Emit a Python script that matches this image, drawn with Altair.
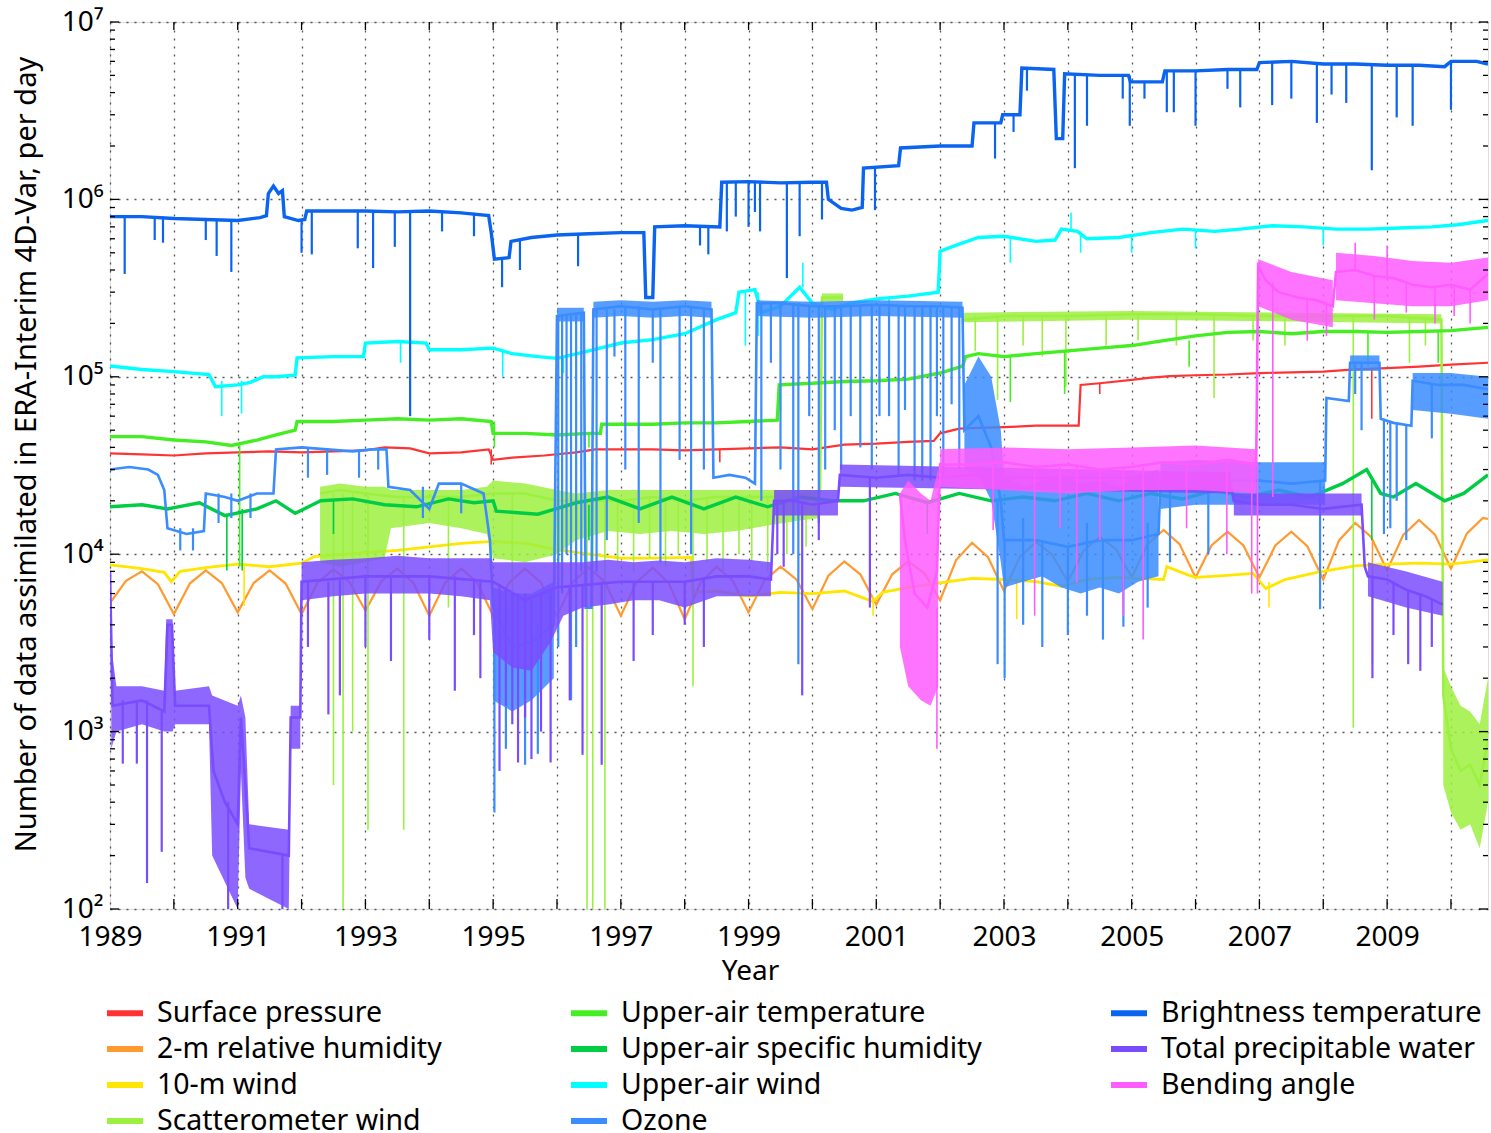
import altair as alt
import pandas as pd

# ---------------------------------------------------------------- layout
W, H = 1378, 887
X0, X1 = 1989.0, 2010.58
FONT = "Noto Sans"

NAMES = ["Surface pressure", "2-m relative humidity", "10-m wind", "Scatterometer wind",
         "Upper-air temperature", "Upper-air specific humidity", "Upper-air wind", "Ozone",
         "Brightness temperature", "Total precipitable water", "Bending angle"]
COLORS = ["#ff3333", "#ff9a30", "#ffe600", "#9cf040", "#44ee22", "#00cc44",
          "#00ffff", "#3a8cff", "#0a64f0", "#7a4cff", "#ff5cff"]
WIDTHS = [2.2, 2.2, 2.8, 2.5, 3.4, 3.4, 3.4, 2.6, 3.4, 2.6, 2.6]

YEAR_TICKS = list(range(1990, 2011))
Y_MAJOR = [1e2, 1e3, 1e4, 1e5, 1e6, 1e7]
Y_MINOR = [m * 10 ** e for e in range(2, 7) for m in range(2, 10)]

# ---------------------------------------------------------------- data
# (year, count per day); None breaks a line
sp_line = [(1989.0, 3.7e4), (1989.5, 3.65e4), (1990.0, 3.6e4), (1990.5, 3.7e4), (1991.0, 3.75e4),
           (1991.5, 3.8e4), (1992.0, 3.75e4), (1992.5, 3.8e4), (1993.0, 3.85e4), (1993.3, 4.0e4),
           (1993.7, 3.95e4), (1994.0, 3.7e4), (1994.5, 3.75e4), (1994.93, 3.9e4), (1995.0, 3.4e4),
           (1995.3, 3.5e4), (1995.8, 3.6e4), (1996.3, 3.75e4), (1996.6, 3.9e4), (1997.0, 3.9e4),
           (1997.5, 3.9e4), (1998.0, 3.85e4), (1998.5, 3.9e4), (1999.0, 3.95e4), (1999.5, 4.0e4),
           (2000.0, 3.9e4), (2000.5, 4.15e4), (2001.0, 4.2e4), (2001.5, 4.3e4), (2001.9, 4.35e4),
           (2002.0, 4.8e4), (2002.3, 5.1e4), (2002.6, 5.15e4), (2003.0, 5.2e4), (2003.5, 5.3e4),
           (2004.0, 5.3e4), (2004.17, 5.3e4), (2004.2, 9.0e4), (2004.5, 9.2e4), (2005.0, 9.6e4),
           (2005.3, 9.9e4), (2005.6, 1.01e5), (2006.0, 1.02e5), (2006.5, 1.03e5), (2007.0, 1.05e5),
           (2007.5, 1.06e5), (2008.0, 1.07e5), (2008.5, 1.1e5), (2009.0, 1.12e5), (2009.5, 1.14e5),
           (2010.0, 1.17e5), (2010.58, 1.2e5)]
sp_dips = [(1994.97, 3.2e4, 3.9e4), (1998.55, 3.3e4, 3.9e4), (2004.5, 8.0e4, 9.2e4),
           (2008.76, 5.8e4, 1.1e5)]

rh_line = [(1989.0, 5.3e3), (1989.25, 7.07e3), (1989.5, 8.0e3), (1989.75, 6.78e3),
           (1990.0, 4.6e3), (1990.25, 6.83e3), (1990.5, 8.1e3), (1990.75, 6.88e3),
           (1991.0, 4.7e3), (1991.25, 6.88e3), (1991.5, 8.1e3), (1991.75, 6.83e3),
           (1992.0, 4.6e3), (1992.25, 6.9e3), (1992.5, 8.2e3), (1992.75, 6.98e3),
           (1993.0, 4.8e3), (1993.25, 7.05e3), (1993.5, 8.3e3), (1993.75, 6.91e3),
           (1994.0, 4.5e3), (1994.25, 6.91e3), (1994.5, 8.3e3), (1994.75, 6.91e3),
           (1995.0, 4.5e3), (1995.25, 6.91e3), (1995.5, 8.3e3), (1995.75, 6.91e3),
           (1996.0, 4.5e3), (1996.25, 6.97e3), (1996.5, 8.4e3), (1996.75, 6.97e3),
           (1997.0, 4.5e3), (1997.25, 6.97e3), (1997.5, 8.4e3), (1997.75, 6.87e3),
           (1998.0, 4.3e3), (1998.25, 6.93e3), (1998.5, 8.5e3), (1998.75, 7.12e3),
           (1999.0, 4.7e3), (1999.25, 7.12e3), (1999.5, 8.5e3), (1999.75, 7.2e3),
           (2000.0, 4.9e3), (2000.25, 7.56e3), (2000.5, 9.1e3), (2000.75, 7.7e3),
           (2001.0, 5.2e3), (2001.25, 7.7e3), (2001.5, 9.1e3), (2001.75, 7.83e3),
           (2002.0, 5.5e3), (2002.25, 9.27e3), (2002.5, 1.16e4), (2002.75, 9.61e3),
           (2003.0, 6.2e3), (2003.25, 9.67e3), (2003.5, 1.17e4), (2003.75, 1.0e4),
           (2004.0, 7.0e3), (2004.25, 1.05e4), (2004.5, 1.25e4), (2004.75, 1.07e4),
           (2005.0, 7.4e3), (2005.25, 1.14e4), (2005.5, 1.37e4), (2005.75, 1.14e4),
           (2006.0, 7.4e3), (2006.25, 1.12e4), (2006.5, 1.34e4), (2006.75, 1.12e4),
           (2007.0, 7.4e3), (2007.25, 1.12e4), (2007.5, 1.34e4), (2007.75, 1.11e4),
           (2008.0, 7.2e3), (2008.25, 1.2e4), (2008.5, 1.5e4), (2008.75, 1.25e4),
           (2009.0, 8.1e3), (2009.25, 1.28e4), (2009.5, 1.56e4), (2009.75, 1.29e4),
           (2010.0, 8.3e3), (2010.25, 1.31e4), (2010.5, 1.6e4), (2010.58, 1.58e4)]
rh_dips = [(2008.77, 2.4e3, 1.2e4)]

wind10_line = [(1989.0, 8.7e3), (1989.5, 8.3e3), (1989.85, 7.9e3), (1989.96, 7.0e3), (1990.1, 8.0e3),
               (1990.5, 8.4e3), (1991.0, 8.8e3), (1991.5, 8.5e3), (1992.0, 8.9e3), (1992.2, 9.7e3),
               (1993.0, 1.02e4), (1993.5, 1.05e4), (1994.0, 1.1e4), (1994.5, 1.15e4), (1995.0, 1.18e4),
               (1995.5, 1.15e4), (1996.0, 1.06e4), (1996.5, 1.0e4), (1997.0, 9.5e3), (1997.5, 9.5e3),
               (1998.1, 9.6e3), (1998.13, 6.1e3), (1998.5, 6.2e3), (1999.0, 5.8e3), (1999.5, 6.1e3),
               (2000.0, 6.0e3), (2000.5, 6.2e3), (2000.95, 5.4e3), (2001.1, 6.1e3), (2001.5, 6.5e3),
               (2002.0, 6.9e3), (2002.5, 7.3e3), (2003.0, 7.2e3), (2003.5, 7.0e3), (2003.9, 6.6e3),
               (2004.3, 7.2e3), (2004.8, 7.4e3), (2005.5, 7.2e3), (2005.55, 8.5e3), (2005.9, 7.6e3),
               (2006.0, 7.4e3), (2006.5, 7.6e3), (2006.9, 7.8e3), (2007.1, 6.4e3), (2007.4, 7.2e3),
               (2007.9, 7.9e3), (2008.5, 8.6e3), (2009.0, 8.8e3), (2009.5, 8.9e3), (2010.0, 8.8e3),
               (2010.58, 9.3e3)]
wind10_dips = [(1991.1, 5.1e3, 8.8e3), (2000.95, 4.5e3, 5.8e3), (2003.2, 4.3e3, 7.2e3),
               (2007.15, 5.0e3, 7.0e3)]

scat_line = [(1992.29, 2.2e4), (1992.6, 2.3e4), (1993.0, 2.2e4), (1993.5, 2.1e4), (1994.0, 2.1e4),
             (1994.5, 2.1e4), (1995.0, 2.2e4), (1995.5, 2.2e4), (1996.0, 2.0e4), (1996.5, 2.0e4),
             (1997.0, 2.0e4), (1997.5, 2.1e4), (1998.0, 2.0e4), (1998.5, 2.1e4), (1999.0, 2.1e4),
             (1999.5, 2.1e4), (2000.12, 2.2e4), (2000.15, 2.8e5), (2000.48, 2.8e5), None,
             (2002.37, 2.1e5), (2003.0, 2.2e5), (2004.0, 2.2e5), (2005.0, 2.25e5), (2006.0, 2.25e5),
             (2007.0, 2.2e5), (2008.0, 2.2e5), (2009.0, 2.2e5), (2009.85, 2.1e5), (2009.88, 1.6e3),
             (2010.0, 8.0e2), (2010.15, 6.0e2), (2010.3, 6.5e2), (2010.45, 5.0e2), (2010.58, 9.0e2)]
scat_band = [(1992.29, 9.0e3, 2.4e4), (1992.6, 8.5e3, 2.5e4), (1993.0, 9.0e3, 2.4e4), (1993.3, 9.5e3, 2.4e4),
             (1993.4, 1.4e4, 2.3e4), (1994.0, 1.5e4, 2.3e4), (1994.5, 1.4e4, 2.3e4), (1994.9, 1.3e4, 2.4e4),
             (1995.0, 9.5e3, 2.6e4), (1995.5, 9.0e3, 2.5e4), (1996.0, 1.0e4, 2.3e4), (1996.3, 1.2e4, 2.2e4),
             (1996.8, 1.35e4, 2.3e4), (1997.3, 1.3e4, 2.3e4), (1997.8, 1.35e4, 2.3e4), (1998.3, 1.3e4, 2.3e4),
             (1998.8, 1.35e4, 2.3e4), (1999.3, 1.45e4, 2.3e4), (1999.8, 1.55e4, 2.3e4), (2000.12, 1.6e4, 2.3e4),
             None, (2000.15, 2.65e5, 2.95e5), (2000.48, 2.65e5, 2.95e5),
             None, (2002.37, 2.03e5, 2.3e5), (2005.0, 2.1e5, 2.35e5), (2009.85, 2.0e5, 2.25e5),
             None, (2009.88, 5.0e2, 2.3e3), (2010.0, 3.5e2, 1.8e3), (2010.15, 2.8e2, 1.4e3),
             (2010.3, 3.0e2, 1.3e3), (2010.45, 2.2e2, 1.1e3), (2010.58, 4.0e2, 2.0e3)]
scat_dips = [(1992.5, 5.0e2, 2.2e4), (1992.65, 1.0e2, 2.2e4), (1992.8, 1.0e3, 2.2e4), (1993.04, 2.8e2, 2.2e4),
             (1993.6, 2.8e2, 2.1e4), (1994.3, 5.0e3, 2.1e4), (1995.3, 4.0e3, 2.2e4), (1996.47, 1.0e2, 2.0e4),
             (1996.56, 1.0e2, 2.0e4), (1996.75, 1.0e2, 2.0e4), (1996.95, 9.0e3, 2.0e4), (1997.2, 8.0e3, 2.0e4),
             (1997.45, 9.5e3, 2.1e4), (1997.7, 8.5e3, 2.0e4), (1997.9, 1.0e4, 2.0e4), (1998.13, 1.8e3, 2.0e4),
             (1998.35, 9.0e3, 2.1e4), (1998.6, 8.0e3, 2.1e4), (1998.85, 1.0e4, 2.1e4), (1999.05, 9.0e3, 2.1e4),
             (1999.3, 8.0e3, 2.1e4), (1999.6, 1.0e4, 2.1e4), (1999.9, 1.1e4, 2.2e4),
             (2002.55, 1.4e5, 2.2e5), (2002.9, 7.4e4, 2.2e5),
             (2003.3, 1.5e5, 2.2e5), (2003.6, 1.3e5, 2.2e5), (2003.97, 8.8e4, 2.2e5), (2004.6, 1.5e5, 2.2e5),
             (2005.1, 1.6e5, 2.25e5), (2005.7, 1.5e5, 2.25e5), (2006.29, 7.6e4, 2.25e5), (2006.9, 1.6e5, 2.2e5),
             (2007.4, 1.5e5, 2.2e5), (2008.47, 1.05e3, 2.2e5), (2009.35, 1.2e5, 2.2e5), (2009.6, 1.5e5, 2.2e5)]

uat_line = [(1989.0, 4.6e4), (1989.5, 4.6e4), (1990.0, 4.4e4), (1990.5, 4.3e4), (1990.9, 4.1e4),
            (1991.3, 4.4e4), (1991.6, 4.7e4), (1991.9, 5.0e4), (1991.93, 5.6e4), (1992.5, 5.6e4),
            (1993.0, 5.7e4), (1993.5, 5.8e4), (1994.0, 5.7e4), (1994.5, 5.8e4), (1994.97, 5.6e4),
            (1995.0, 4.8e4), (1995.5, 4.8e4), (1996.0, 4.7e4), (1996.5, 4.8e4), (1996.68, 4.8e4),
            (1996.7, 5.4e4), (1997.5, 5.4e4), (1998.0, 5.5e4), (1998.5, 5.5e4), (1999.0, 5.6e4),
            (1999.45, 5.7e4), (1999.48, 9.0e4), (2000.0, 9.2e4), (2000.5, 9.4e4), (2001.0, 9.5e4),
            (2001.5, 9.7e4), (2002.0, 1.05e5), (2002.35, 1.15e5), (2002.4, 1.3e5), (2002.6, 1.35e5),
            (2003.0, 1.3e5), (2003.5, 1.35e5), (2004.0, 1.4e5), (2004.5, 1.45e5), (2005.0, 1.5e5),
            (2005.5, 1.6e5), (2006.0, 1.7e5), (2006.5, 1.78e5), (2007.0, 1.8e5), (2007.5, 1.75e5),
            (2008.0, 1.8e5), (2008.5, 1.8e5), (2009.0, 1.78e5), (2009.5, 1.8e5), (2010.0, 1.82e5),
            (2010.58, 1.9e5)]
uat_dips = [(1991.03, 8.5e3, 4.2e4), (1995.02, 4.0e4, 5.6e4), (1996.5, 4.0e4, 4.8e4), (1999.5, 6.5e4, 9.0e4),
            (2003.1, 7.2e4, 1.3e5), (2003.95, 8.0e4, 1.4e5), (2005.9, 1.14e5, 1.6e5), (2008.7, 1.15e5, 1.8e5),
            (2009.8, 1.2e5, 1.8e5)]

uash_line = [(1989.0, 1.85e4), (1989.5, 1.9e4), (1989.9, 1.8e4), (1990.4, 1.95e4), (1990.8, 1.65e4),
             (1991.3, 1.8e4), (1991.6, 2.0e4), (1991.9, 1.7e4), (1992.3, 2.0e4), (1992.8, 2.05e4),
             (1993.3, 1.9e4), (1993.8, 1.85e4), (1994.3, 2.05e4), (1994.7, 1.95e4), (1995.0, 2.0e4),
             (1995.05, 1.75e4), (1995.7, 1.68e4), (1996.3, 1.95e4), (1996.8, 2.1e4), (1997.3, 1.8e4),
             (1997.8, 2.1e4), (1998.3, 1.8e4), (1998.8, 2.1e4), (1999.3, 1.85e4), (1999.8, 2.1e4),
             (2000.3, 2.0e4), (2000.8, 2.0e4), (2001.3, 2.2e4), (2001.8, 1.95e4), (2002.3, 2.2e4),
             (2002.8, 2.0e4), (2003.3, 2.1e4), (2003.8, 2.0e4), (2004.3, 2.2e4), (2004.8, 2.0e4),
             (2005.3, 2.2e4), (2005.8, 2.05e4), (2006.3, 2.3e4), (2006.8, 2.1e4), (2007.3, 2.3e4),
             (2007.8, 2.1e4), (2008.3, 2.5e4), (2008.68, 3.0e4), (2008.9, 2.2e4), (2009.1, 2.1e4),
             (2009.45, 2.5e4), (2009.9, 2.0e4), (2010.2, 2.2e4), (2010.58, 2.8e4)]
uash_dips = [(1990.83, 8.1e3, 1.7e4), (1991.07, 8.1e3, 1.8e4), (1992.5, 1.3e4, 2.0e4), (1996.5, 1.2e4, 1.9e4),
             (1998.1, 1.2e4, 1.9e4), (2001.8, 1.3e4, 2.0e4), (2008.76, 1.2e4, 2.6e4)]

uaw_line = [(1989.0, 1.15e5), (1989.5, 1.1e5), (1990.0, 1.07e5), (1990.55, 1.03e5), (1990.65, 8.8e4),
            (1991.0, 9.0e4), (1991.2, 9.3e4), (1991.4, 1.0e5), (1991.6, 1.0e5), (1991.9, 1.02e5),
            (1991.93, 1.28e5), (1992.5, 1.3e5), (1992.97, 1.3e5), (1993.0, 1.55e5), (1993.5, 1.58e5),
            (1993.95, 1.55e5), (1994.0, 1.42e5), (1994.5, 1.42e5), (1995.0, 1.45e5), (1995.3, 1.35e5),
            (1995.7, 1.3e5), (1996.0, 1.27e5), (1996.5, 1.4e5), (1997.0, 1.55e5), (1997.5, 1.62e5),
            (1998.0, 1.75e5), (1998.5, 2.1e5), (1998.8, 2.3e5), (1998.85, 3.0e5), (1999.1, 3.1e5),
            (1999.2, 2.3e5), (1999.5, 2.5e5), (1999.8, 3.2e5), (2000.0, 2.6e5), (2000.3, 2.4e5),
            (2000.6, 2.6e5), (2001.0, 2.75e5), (2001.5, 2.85e5), (2001.97, 3.0e5), (2002.0, 5.1e5),
            (2002.3, 5.6e5), (2002.6, 6.1e5), (2003.0, 6.2e5), (2003.5, 5.8e5), (2003.8, 5.9e5),
            (2003.9, 6.8e5), (2004.15, 6.6e5), (2004.3, 6.0e5), (2004.8, 6.1e5), (2005.3, 6.5e5),
            (2005.8, 6.8e5), (2006.3, 6.6e5), (2006.7, 6.8e5), (2007.2, 7.1e5), (2007.7, 7.0e5),
            (2008.2, 6.8e5), (2008.7, 6.8e5), (2009.2, 6.9e5), (2009.7, 7.0e5), (2010.1, 7.2e5),
            (2010.58, 7.6e5)]
uaw_dips = [(1990.75, 6.0e4, 9.5e4), (1991.06, 6.2e4, 9.5e4), (1993.55, 1.2e5, 1.55e5), (1995.15, 1.0e5, 1.4e5),
            (1996.1, 1.05e5, 1.3e5), (1998.95, 1.5e5, 3.0e5), (1999.15, 1.7e5, 3.0e5), (1999.85, 3.2e5, 4.4e5),
            (2000.45, 1.8e5, 2.6e5), (2001.2, 2.2e5, 2.8e5), (2003.1, 4.4e5, 6.2e5), (2004.05, 6.6e5, 8.4e5),
            (2004.2, 5.0e5, 6.6e5), (2005.0, 5.0e5, 6.3e5), (2006.0, 5.3e5, 6.6e5), (2008.0, 5.5e5, 6.8e5)]

oz_line = [(1989.0, 3.0e4), (1989.3, 3.1e4), (1989.6, 3.0e4), (1989.75, 2.8e4), (1989.85, 2.3e4),
           (1989.9, 1.4e4), (1990.2, 1.3e4), (1990.47, 1.35e4), (1990.5, 2.2e4), (1990.8, 2.1e4),
           (1991.0, 2.0e4), (1991.3, 2.2e4), (1991.56, 2.2e4), (1991.6, 3.9e4), (1992.0, 4.0e4),
           (1992.4, 3.9e4), (1992.8, 3.8e4), (1993.1, 3.9e4), (1993.33, 3.9e4), (1993.36, 2.4e4),
           (1993.7, 2.3e4), (1994.0, 1.8e4), (1994.15, 2.5e4), (1994.5, 2.5e4), (1994.85, 2.2e4),
           (1994.95, 1.2e4), (1995.0, 5.0e3), (1995.3, 3.0e3), (1995.6, 3.2e3), (1995.95, 4.0e3),
           (1996.0, 2.2e5), (1996.42, 2.3e5), (1996.45, 5.0e3), (1996.54, 5.0e3), (1996.57, 2.4e5),
           (1997.0, 2.5e5), (1997.5, 2.4e5), (1998.0, 2.5e5), (1998.42, 2.4e5), (1998.45, 2.7e4),
           (1998.7, 2.8e4), (1998.95, 2.7e4), (1999.1, 2.5e4), (1999.13, 2.6e5), (1999.5, 2.6e5),
           (2000.0, 2.5e5), (2000.5, 2.5e5), (2001.0, 2.55e5), (2001.5, 2.5e5), (2002.0, 2.5e5),
           (2002.35, 2.45e5), (2002.38, 5.0e4), (2002.6, 6.0e4), (2002.8, 4.0e4), (2002.95, 2.0e4),
           (2003.0, 1.2e4), (2003.5, 1.2e4), (2004.0, 1.1e4), (2004.5, 1.2e4), (2005.0, 1.2e4),
           (2005.42, 1.3e4), (2005.45, 2.5e4), (2006.0, 2.6e4), (2006.5, 2.6e4), (2007.0, 2.6e4),
           (2007.5, 2.5e4), (2008.03, 2.6e4), (2008.05, 7.6e4), (2008.4, 7.3e4), (2008.42, 1.2e5),
           (2008.88, 1.2e5), (2008.9, 5.8e4), (2009.1, 5.5e4), (2009.38, 5.3e4), (2009.4, 9.5e4),
           (2009.8, 9.0e4), (2010.2, 9.0e4), (2010.58, 8.5e4)]
oz_band = [(1995.0, 1.5e3, 6.5e3), (1995.3, 1.3e3, 6.0e3), (1995.6, 1.5e3, 6.0e3), (1995.95, 2.0e3, 7.0e3),
           None, (1996.0, 2.05e5, 2.45e5), (1996.42, 2.05e5, 2.45e5),
           None, (1996.57, 2.15e5, 2.65e5), (1997.0, 2.2e5, 2.7e5), (1997.5, 2.15e5, 2.65e5),
           (1998.0, 2.2e5, 2.7e5), (1998.42, 2.15e5, 2.65e5),
           None, (1999.13, 2.2e5, 2.7e5), (2000.0, 2.15e5, 2.65e5), (2001.0, 2.2e5, 2.7e5), (2002.35, 2.15e5, 2.65e5),
           None, (2002.38, 3.0e4, 9.0e4), (2002.6, 2.8e4, 1.3e5), (2002.8, 2.0e4, 1.0e5), (2002.95, 9.0e3, 5.0e4),
           (2003.0, 6.5e3, 2.8e4), (2003.3, 7.0e3, 2.4e4), (2003.6, 7.5e3, 2.6e4), (2003.9, 6.5e3, 2.8e4),
           (2004.2, 6.0e3, 2.5e4), (2004.5, 6.5e3, 2.6e4), (2004.8, 6.0e3, 2.4e4), (2005.1, 7.0e3, 2.8e4),
           (2005.42, 7.5e3, 3.0e4),
           None, (2005.45, 1.8e4, 3.3e4), (2006.0, 1.9e4, 3.4e4), (2007.0, 1.9e4, 3.3e4), (2008.03, 1.9e4, 3.3e4),
           None, (2008.42, 1.08e5, 1.32e5), (2008.88, 1.08e5, 1.32e5),
           None, (2009.4, 6.5e4, 1.05e5), (2010.0, 6.2e4, 1.05e5), (2010.58, 5.8e4, 1.0e5)]
oz_dips = [(1990.1, 1.05e4, 1.4e4), (1990.3, 1.05e4, 1.4e4), (1990.7, 1.5e4, 2.2e4), (1990.9, 1.6e4, 2.2e4),
           (1991.2, 1.6e4, 2.2e4), (1992.1, 2.7e4, 4.0e4), (1992.4, 2.8e4, 3.9e4), (1992.9, 2.7e4, 3.9e4),
           (1993.2, 3.0e4, 3.9e4), (1993.9, 1.6e4, 2.4e4), (1994.5, 1.7e4, 2.5e4), (1995.02, 3.5e2, 5.0e3),
           (1995.2, 8.0e2, 4.0e3), (1995.5, 6.5e2, 4.0e3), (1995.7, 7.5e2, 4.0e3),
           (1996.02, 3.0e3, 2.2e5), (1996.08, 6.0e3, 2.2e5), (1996.15, 1.0e4, 2.2e5), (1996.22, 1.5e3, 2.2e5),
           (1996.3, 3.0e3, 2.3e5), (1996.38, 8.0e3, 2.3e5),
           (1996.62, 8.0e3, 2.4e5), (1996.78, 1.2e4, 2.4e5), (1996.9, 1.3e5, 2.4e5), (1997.07, 3.0e4, 2.5e5),
           (1997.28, 1.5e4, 2.5e5), (1997.5, 1.2e5, 2.4e5), (1997.62, 9.0e3, 2.4e5), (1997.92, 3.4e4, 2.5e5),
           (1998.1, 1.0e4, 2.5e5), (1998.3, 3.0e4, 2.4e5),
           (1999.2, 2.0e4, 2.6e5), (1999.35, 1.2e5, 2.6e5), (1999.5, 3.0e4, 2.6e5), (1999.7, 1.0e4, 2.6e5),
           (1999.78, 2.4e3, 2.6e5), (1999.95, 6.0e4, 2.5e5), (2000.1, 1.5e4, 2.5e5), (2000.2, 3.0e4, 2.5e5),
           (2000.35, 5.0e4, 2.5e5), (2000.45, 3.0e4, 2.5e5), (2000.6, 6.0e4, 2.5e5), (2000.75, 4.0e4, 2.5e5),
           (2000.93, 3.0e4, 2.55e5), (2001.05, 6.0e4, 2.55e5), (2001.2, 6.0e4, 2.55e5), (2001.35, 2.8e4, 2.5e5),
           (2001.45, 6.5e4, 2.5e5), (2001.6, 2.6e4, 2.5e5), (2001.72, 2.6e4, 2.5e5), (2001.85, 2.6e4, 2.5e5),
           (2001.95, 6.0e4, 2.5e5), (2002.05, 2.8e4, 2.5e5), (2002.18, 7.0e4, 2.5e5), (2002.3, 3.0e4, 2.45e5),
           (2002.9, 2.4e3, 2.0e4), (2003.01, 2.0e3, 1.2e4), (2003.3, 4.0e3, 1.6e4), (2003.6, 3.0e3, 1.2e4),
           (2004.0, 3.5e3, 1.1e4), (2004.3, 4.5e3, 1.5e4), (2004.55, 3.3e3, 1.2e4), (2004.87, 3.9e3, 1.2e4),
           (2005.25, 5.0e3, 1.5e4), (2005.6, 9.0e3, 2.5e4), (2006.2, 1.0e4, 2.6e4),
           (2007.95, 4.9e3, 2.6e4), (2008.5, 8.0e4, 1.2e5), (2008.6, 5.0e4, 1.2e5), (2008.95, 1.3e4, 5.8e4),
           (2009.05, 1.4e4, 5.5e4), (2009.15, 2.0e4, 5.5e4), (2009.3, 1.2e4, 5.3e4), (2009.7, 4.5e4, 9.0e4)]

bt_line = [(1989.0, 8.0e5), (1989.5, 8.0e5), (1990.0, 7.8e5), (1990.5, 7.7e5), (1991.0, 7.6e5),
           (1991.35, 7.9e5), (1991.45, 8.1e5), (1991.48, 1.08e6), (1991.56, 1.19e6), (1991.64, 1.08e6),
           (1991.7, 1.12e6), (1991.73, 8.0e5), (1991.95, 7.6e5), (1992.05, 7.7e5), (1992.08, 8.6e5),
           (1993.0, 8.6e5), (1993.5, 8.5e5), (1994.0, 8.6e5), (1994.5, 8.4e5), (1994.93, 8.1e5),
           (1994.97, 6.5e5), (1995.02, 4.6e5), (1995.25, 4.7e5), (1995.28, 5.8e5), (1995.6, 6.1e5),
           (1996.0, 6.3e5), (1996.5, 6.4e5), (1997.0, 6.5e5), (1997.36, 6.5e5), (1997.39, 2.8e5),
           (1997.5, 2.8e5), (1997.53, 7.0e5), (1998.0, 7.1e5), (1998.55, 7.0e5), (1998.58, 1.25e6),
           (1999.0, 1.26e6), (1999.5, 1.24e6), (2000.0, 1.25e6), (2000.22, 1.25e6), (2000.25, 1.0e6),
           (2000.45, 8.9e5), (2000.62, 8.7e5), (2000.78, 9.0e5), (2000.8, 1.5e6), (2001.35, 1.55e6),
           (2001.38, 1.95e6), (2002.0, 2.0e6), (2002.5, 2.0e6), (2002.53, 2.7e6), (2002.95, 2.7e6),
           (2002.98, 3.0e6), (2003.25, 3.0e6), (2003.28, 5.5e6), (2003.78, 5.4e6), (2003.82, 2.2e6),
           (2003.92, 2.2e6), (2003.95, 5.1e6), (2004.5, 5.0e6), (2004.95, 5.0e6), (2004.98, 4.6e6),
           (2005.48, 4.6e6), (2005.52, 5.3e6), (2006.0, 5.3e6), (2006.5, 5.4e6), (2006.96, 5.4e6),
           (2007.0, 5.9e6), (2007.5, 6.0e6), (2008.0, 5.8e6), (2008.5, 5.8e6), (2009.0, 5.7e6),
           (2009.5, 5.7e6), (2009.9, 5.6e6), (2010.0, 6.0e6), (2010.4, 6.0e6), (2010.58, 5.8e6)]
bt_dips = [(1989.23, 3.8e5, 8.0e5), (1989.7, 5.9e5, 8.0e5), (1989.83, 5.7e5, 8.0e5), (1990.5, 5.9e5, 7.7e5),
           (1990.67, 4.8e5, 7.7e5), (1990.9, 3.9e5, 7.6e5), (1992.0, 5.0e5, 7.6e5), (1992.16, 4.9e5, 8.6e5),
           (1992.88, 5.3e5, 8.6e5), (1993.12, 4.1e5, 8.6e5), (1993.46, 5.4e5, 8.5e5), (1993.7, 6.0e4, 8.5e5),
           (1994.2, 6.6e5, 8.6e5), (1994.7, 6.2e5, 8.4e5), (1995.14, 3.2e5, 4.6e5), (1995.42, 4.0e5, 5.9e5),
           (1996.33, 4.2e5, 6.4e5), (1998.24, 5.5e5, 7.0e5), (1998.37, 4.9e5, 7.0e5), (1998.66, 6.6e5, 1.25e6),
           (1998.8, 8.0e5, 1.25e6), (1999.0, 7.0e5, 1.25e6), (1999.1, 8.5e5, 1.25e6), (1999.18, 6.6e5, 1.25e6),
           (1999.6, 3.6e5, 1.25e6), (1999.8, 6.2e5, 1.25e6), (2000.15, 7.7e5, 1.25e6), (2000.98, 8.7e5, 1.5e6),
           (2002.86, 1.7e6, 2.7e6), (2003.15, 2.4e6, 3.0e6), (2003.36, 4.1e6, 5.5e6), (2004.11, 1.5e6, 5.1e6),
           (2004.3, 2.6e6, 5.1e6), (2004.86, 3.7e6, 5.0e6), (2004.97, 2.6e6, 5.0e6), (2005.2, 3.7e6, 4.6e6),
           (2005.55, 3.1e6, 5.3e6), (2005.66, 3.1e6, 5.3e6), (2006.0, 2.6e6, 5.3e6), (2006.5, 4.2e6, 5.4e6),
           (2006.7, 3.3e6, 5.4e6), (2007.2, 3.4e6, 5.9e6), (2007.5, 3.7e6, 6.0e6), (2007.9, 2.7e6, 5.8e6),
           (2008.13, 3.9e6, 5.8e6), (2008.36, 3.5e6, 5.8e6), (2008.76, 1.46e6, 5.8e6), (2009.15, 2.9e6, 5.7e6),
           (2009.4, 2.6e6, 5.7e6), (2010.0, 3.2e6, 6.0e6)]

tpw_line = [(1989.0, 8.0e3), (1989.04, 1.4e3), (1989.5, 1.5e3), (1989.85, 1.3e3), (1989.9, 4.0e3),
            (1989.97, 4.0e3), (1990.02, 1.4e3), (1990.55, 1.4e3), (1990.62, 6.0e2), (1990.8, 4.0e2),
            (1991.0, 3.0e2), (1991.05, 1.2e3), (1991.12, 5.0e2), (1991.18, 2.2e2), (1991.8, 2.0e2),
            (1991.83, 1.2e3), (1991.98, 1.2e3), (1992.0, 7.0e3), (1993.0, 7.5e3), (1994.0, 7.5e3),
            (1995.0, 7.0e3), (1995.5, 5.5e3), (1996.0, 6.5e3), (1997.0, 7.0e3), (1998.0, 7.0e3),
            (1998.5, 7.5e3), (1999.0, 7.5e3), (1999.35, 7.2e3), (1999.4, 2.0e4), (1999.7, 2.0e4),
            (2000.0, 1.9e4), (2000.4, 2.0e4), (2000.43, 2.8e4), (2001.0, 2.7e4), (2001.5, 2.8e4),
            (2002.0, 2.7e4), (2002.5, 2.8e4), (2003.0, 2.7e4), (2004.0, 2.7e4), (2005.0, 2.7e4),
            (2005.5, 2.6e4), (2006.0, 2.5e4), (2006.55, 2.5e4), (2006.6, 2.0e4), (2007.0, 1.9e4),
            (2007.5, 1.9e4), (2008.0, 1.8e4), (2008.6, 1.9e4), (2008.65, 8.5e3), (2008.7, 7.5e3),
            (2009.0, 7.2e3), (2009.3, 6.3e3), (2009.6, 5.8e3), (2009.87, 5.2e3)]
tpw_band = [(1989.02, 8.0e2, 3.0e3), (1989.1, 1.0e3, 1.8e3), (1989.5, 1.1e3, 1.8e3), (1989.85, 1.0e3, 1.7e3),
            (1989.88, 1.0e3, 4.3e3), (1989.98, 1.0e3, 4.3e3), (1990.02, 1.1e3, 1.7e3), (1990.55, 1.1e3, 1.8e3),
            (1990.6, 2.0e2, 1.6e3), (1991.0, 1.0e2, 1.4e3), (1991.05, 6.0e2, 1.6e3), (1991.12, 1.5e2, 1.2e3),
            (1991.18, 1.3e2, 3.0e2), (1991.8, 1.0e2, 2.8e2), (1991.83, 8.0e2, 1.4e3), (1991.98, 8.0e2, 1.4e3),
            None, (1992.0, 5.5e3, 9.0e3), (1992.5, 5.8e3, 9.3e3), (1993.0, 6.0e3, 9.5e3), (1993.5, 6.0e3, 9.8e3),
            (1994.0, 6.0e3, 9.5e3), (1994.5, 5.8e3, 9.5e3), (1994.95, 5.5e3, 9.5e3), (1995.0, 2.8e3, 9.0e3),
            (1995.3, 2.3e3, 9.0e3), (1995.6, 2.2e3, 9.0e3), (1995.9, 3.2e3, 9.0e3), (1996.1, 4.5e3, 9.0e3),
            (1996.4, 5.0e3, 9.0e3), (1996.8, 5.2e3, 9.3e3), (1997.2, 5.5e3, 9.0e3), (1997.6, 5.5e3, 9.2e3),
            (1998.0, 5.0e3, 9.0e3), (1998.5, 5.8e3, 9.5e3), (1999.0, 5.8e3, 9.3e3), (1999.35, 5.8e3, 9.0e3),
            None, (1999.4, 1.65e4, 2.3e4), (2000.4, 1.65e4, 2.3e4),
            None, (2000.43, 2.4e4, 3.2e4), (2006.55, 2.2e4, 2.9e4),
            None, (2006.6, 1.65e4, 2.2e4), (2008.6, 1.65e4, 2.2e4),
            None, (2008.7, 5.8e3, 9.0e3), (2009.3, 5.0e3, 8.0e3), (2009.87, 4.5e3, 7.0e3)]
tpw_dips = [(1989.2, 6.6e2, 1.5e3), (1989.42, 6.6e2, 1.5e3), (1989.58, 1.4e2, 1.5e3), (1989.81, 2.1e2, 1.3e3),
            (1990.85, 1.0e2, 4.0e2), (1991.7, 1.0e2, 2.0e2), (1992.1, 3.0e3, 7.0e3), (1992.42, 1.25e3, 7.0e3),
            (1992.6, 1.6e3, 7.2e3), (1993.0, 3.0e3, 7.5e3), (1993.4, 2.5e3, 7.5e3), (1994.0, 3.3e3, 7.5e3),
            (1994.4, 1.7e3, 7.5e3), (1994.7, 3.5e3, 7.3e3), (1994.8, 2.0e3, 7.2e3), (1995.1, 6.0e2, 6.8e3),
            (1995.2, 1.4e3, 6.5e3), (1995.3, 1.1e3, 6.0e3), (1995.39, 6.7e2, 6.0e3), (1995.5, 1.2e3, 6.0e3),
            (1995.6, 7.0e2, 5.5e3), (1995.75, 1.0e3, 6.0e3), (1995.9, 6.7e2, 6.3e3),
            (1996.2, 1.5e3, 6.6e3), (1996.4, 7.4e2, 6.8e3), (1996.7, 6.5e2, 7.0e3), (1997.2, 2.5e3, 7.0e3),
            (1997.5, 3.5e3, 7.0e3), (1998.0, 4.0e3, 7.0e3), (1998.3, 3.0e3, 7.2e3), (1999.45, 1.0e4, 2.0e4),
            (1999.55, 8.5e3, 2.0e4), (1999.84, 1.6e3, 2.0e4), (2000.1, 1.2e4, 1.9e4), (2000.9, 5.0e3, 2.7e4),
            (2008.77, 2.0e3, 7.5e3), (2009.1, 3.5e3, 7.0e3), (2009.33, 2.4e3, 6.3e3), (2009.52, 2.2e3, 6.0e3),
            (2009.7, 3.0e3, 5.6e3)]

ba_line = [(2001.37, 2.2e4), (2001.45, 1.2e4), (2001.6, 6.0e3), (2001.8, 5.0e3), (2001.95, 8.0e3),
           (2002.0, 3.2e4), (2002.5, 3.2e4), (2003.0, 3.3e4), (2003.5, 3.1e4), (2004.0, 3.2e4),
           (2004.5, 3.0e4), (2005.0, 3.1e4), (2005.5, 3.3e4), (2006.0, 3.2e4), (2006.5, 3.4e4),
           (2006.95, 3.2e4), (2006.98, 4.2e5), (2007.1, 3.5e5), (2007.3, 3.0e5), (2007.6, 2.8e5),
           (2007.9, 2.7e5), (2008.15, 2.5e5), (2008.2, 3.9e5), (2008.5, 4.0e5), (2008.8, 3.7e5),
           (2009.1, 3.6e5), (2009.4, 3.3e5), (2009.7, 3.2e5), (2010.0, 3.3e5), (2010.3, 3.1e5),
           (2010.58, 3.8e5)]
ba_band = [(2001.37, 3.0e3, 2.2e4), (2001.5, 1.8e3, 2.6e4), (2001.7, 1.5e3, 2.2e4), (2001.85, 1.4e3, 2.0e4),
           (2001.97, 1.8e3, 3.0e4),
           None, (2002.0, 2.4e4, 3.9e4), (2003.0, 2.3e4, 4.0e4), (2004.0, 2.2e4, 3.9e4), (2005.0, 2.3e4, 4.0e4),
           (2006.0, 2.3e4, 4.1e4), (2006.95, 2.2e4, 3.9e4),
           None, (2006.98, 2.5e5, 4.6e5), (2007.5, 2.1e5, 3.9e5), (2008.15, 1.9e5, 3.5e5),
           None, (2008.2, 2.7e5, 5.0e5), (2008.8, 2.6e5, 4.8e5), (2009.4, 2.5e5, 4.5e5), (2010.0, 2.5e5, 4.4e5),
           (2010.58, 2.7e5, 4.7e5)]
ba_dips = [(2001.95, 8.0e2, 5.0e3), (2002.83, 1.37e4, 3.2e4), (2003.48, 4.5e3, 3.1e4), (2003.88, 1.4e4, 3.2e4),
           (2004.14, 6.9e3, 3.2e4), (2004.5, 1.2e4, 3.0e4), (2004.87, 4.5e3, 3.1e4), (2005.18, 3.3e3, 3.1e4),
           (2005.86, 1.4e4, 3.3e4), (2006.49, 1.0e4, 3.4e4), (2006.88, 6.0e3, 3.2e4), (2006.97, 6.0e3, 3.2e4),
           (2007.21, 2.1e4, 3.4e5), (2007.75, 1.6e5, 2.8e5), (2008.05, 1.7e5, 2.6e5), (2008.5, 4.0e5, 5.7e5),
           (2008.8, 2.1e5, 3.7e5), (2009.0, 3.6e5, 5.5e5), (2009.3, 2.3e5, 3.4e5), (2009.75, 2.0e5, 3.2e5),
           (2010.05, 2.2e5, 3.3e5), (2010.3, 2.0e5, 3.1e5)]

SERIES = [
    (sp_line, None, sp_dips),
    (rh_line, None, rh_dips),
    (wind10_line, None, wind10_dips),
    (scat_line, scat_band, scat_dips),
    (uat_line, None, uat_dips),
    (uash_line, None, uash_dips),
    (uaw_line, None, uaw_dips),
    (oz_line, oz_band, oz_dips),
    (bt_line, None, bt_dips),
    (tpw_line, tpw_band, tpw_dips),
    (ba_line, ba_band, ba_dips),
]


# ---------------------------------------------------------------- frames
def line_frame(name, pts):
    rows, seg = [], 0
    for p in pts:
        if p is None:
            seg += 1
            continue
        rows.append({"series": name, "year": p[0], "value": p[1], "seg": seg})
    return pd.DataFrame(rows)


def band_frame(name, pts):
    rows, seg = [], 0
    for p in pts:
        if p is None:
            seg += 1
            continue
        rows.append({"series": name, "year": p[0], "lo": p[1], "hi": p[2], "seg": seg})
    return pd.DataFrame(rows)


def dip_frame(name, pts):
    return pd.DataFrame([{"series": name, "year": a, "lo": b, "hi": c} for a, b, c in pts])


# ---------------------------------------------------------------- scales / axes
x_scale = alt.Scale(domain=[X0, X1], nice=False, zero=False)
y_scale = alt.Scale(type="log", domain=[1e2, 1e7], nice=False)
# vega fills a 3-column legend column by column
color_scale = alt.Scale(domain=NAMES, range=COLORS)

X_TITLE = "Year"
Y_TITLE = "Number of data assimilated in ERA-Interim 4D-Var, per day"

grid_style = dict(grid=True, gridDash=[2, 6], gridColor="#555555", gridWidth=1.3, gridOpacity=1)

x_axis = alt.Axis(values=list(range(1989, 2011)), format="d",
                  labelExpr="datum.value % 2 == 1 ? datum.label : ''",
                  ticks=False, domain=False, labelPadding=14,
                  labelFontSize=28, labelFont=FONT, labelColor="black", labelFlush=False,
                  titleFontSize=28, titleFont=FONT, titleFontWeight="normal", titleColor="black",
                  titleX=640, titleY=62, titleBaseline="middle", **grid_style)
y_axis = alt.Axis(values=Y_MAJOR,
                  labelExpr="'10' + ['\u2070','\u00b9','\u00b2','\u00b3','\u2074','\u2075','\u2076','\u2077'][round(log(datum.value)/LN10)]",
                  ticks=False, domain=False, labelPadding=7,
                  labelFontSize=28, labelFont=FONT, labelColor="black",
                  titleFontSize=29, titleFont=FONT, titleFontWeight="normal", titleColor="black",
                  titleX=-84, titleY=432, titleAngle=270, titleBaseline="middle", titleAlign="center",
                  **grid_style)


def X():
    return alt.X("year:Q", scale=x_scale, axis=x_axis, title=X_TITLE)


def Y(field):
    return alt.Y(f"{field}:Q", scale=y_scale, axis=y_axis, title=Y_TITLE)


legend = alt.Legend(orient="none", legendX=-6, legendY=970, columns=3, title=None,
                    symbolType="stroke", symbolStrokeWidth=6, symbolSize=1296,
                    labelFontSize=28.5, labelFont=FONT, labelColor="black", labelOffset=11,
                    columnPadding=117, rowPadding=0, gridAlign="each", padding=0,
                    labelLimit=600)

layers = []
for i, (line_pts, band_pts, dip_pts) in enumerate(SERIES):
    name, col = NAMES[i], COLORS[i]
    if band_pts:
        layers.append(alt.Chart(band_frame(name, band_pts)).mark_area(
            color=col, opacity=0.85, clip=True, interpolate="linear").encode(
            x=X(), y=Y("lo"), y2="hi:Q", detail="seg:N"))
    rule_w = 2.2 if name in ("Ozone", "Brightness temperature", "Total precipitable water") else 1.6
    layers.append(alt.Chart(dip_frame(name, dip_pts)).mark_rule(
        color=col, strokeWidth=rule_w, clip=True).encode(x=X(), y=Y("lo"), y2="hi:Q"))
    layers.append(alt.Chart(line_frame(name, line_pts)).mark_line(
        strokeWidth=WIDTHS[i], clip=True).encode(
        x=X(), y=Y("value"), detail="seg:N",
        color=alt.Color("series:N", scale=color_scale, legend=legend)))

# inward tick marks on all four sides of the frame
yt_major = pd.DataFrame({"value": Y_MAJOR})
yt_minor = pd.DataFrame({"value": Y_MINOR})
xt = pd.DataFrame({"year": YEAR_TICKS})
tick = dict(color="black", strokeWidth=1.3)
layers += [
    alt.Chart(yt_major).mark_rule(**tick).encode(y=Y("value"), x=alt.value(0), x2=alt.value(9)),
    alt.Chart(yt_major).mark_rule(**tick).encode(y=Y("value"), x=alt.value(W - 9), x2=alt.value(W)),
    alt.Chart(yt_minor).mark_rule(**tick).encode(y=Y("value"), x=alt.value(0), x2=alt.value(5)),
    alt.Chart(yt_minor).mark_rule(**tick).encode(y=Y("value"), x=alt.value(W - 5), x2=alt.value(W)),
    alt.Chart(xt).mark_rule(**tick).encode(x=X(), y=alt.value(H - 10), y2=alt.value(H)),
    alt.Chart(xt).mark_rule(**tick).encode(x=X(), y=alt.value(0), y2=alt.value(8)),
]

chart = alt.layer(*layers).properties(
    width=W, height=H,
    padding={"left": 110, "top": 22, "right": 3, "bottom": 224},
    autosize=alt.AutoSizeParams(type="none"),
).configure_view(stroke="black", strokeWidth=2).configure(background="white")

chart.save("out.html", embed_options={"renderer": "svg", "actions": False})
